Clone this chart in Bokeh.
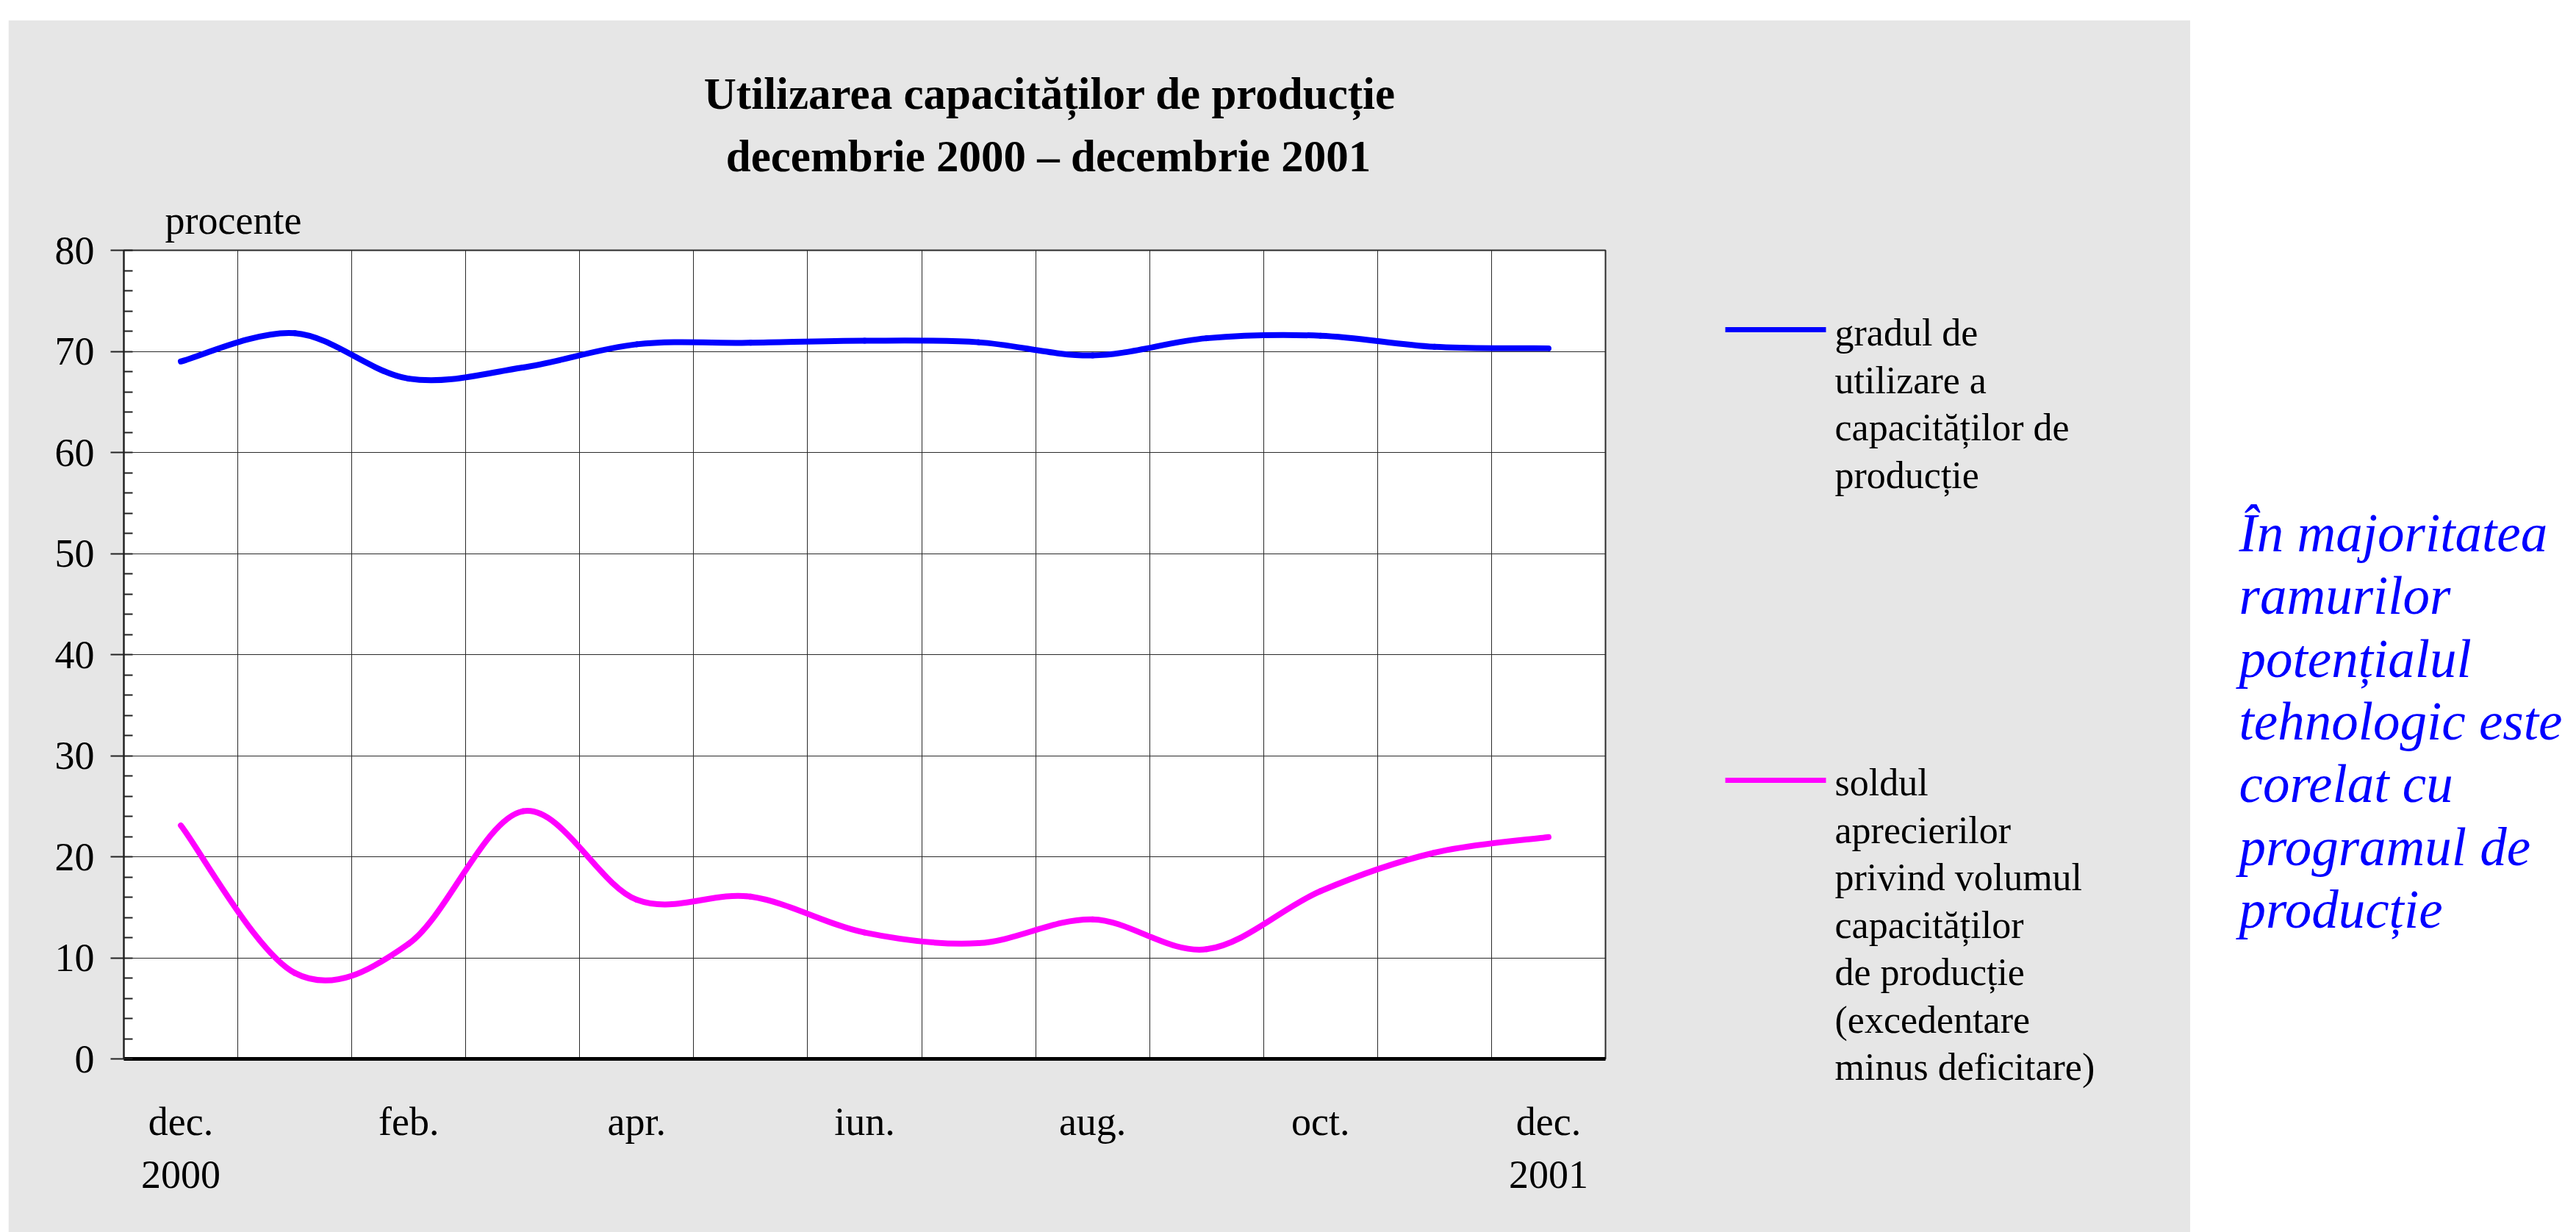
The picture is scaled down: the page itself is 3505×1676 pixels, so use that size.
from bokeh.plotting import figure
from bokeh.models import Range1d, FixedTicker, SingleIntervalTicker, Label, Spacer, ColumnDataSource
from bokeh.layouts import row, column
from bokeh.embed import file_html
from bokeh.resources import INLINE
from bokeh.core.properties import value

# ---------------- data ----------------
months = ["dec.\n2000", "ian.", "feb.", "mar.", "apr.", "mai", "iun.",
          "iul.", "aug.", "sep.", "oct.", "nov.", "dec.\n2001"]
shown_ticks = [0, 2, 4, 6, 8, 10, 12]
grad_utilizare = [69.0, 71.8, 67.3, 68.4, 70.7, 70.85, 71.05, 70.9, 69.6, 71.3, 71.55, 70.45, 70.3]
sold_aprecieri = [23.1, 8.5, 11.4, 24.5, 15.75, 16.05, 12.5, 11.45, 13.8, 10.85, 16.6, 20.4, 21.95]

title_lines = ["Utilizarea capacităților de producție", "decembrie 2000 – decembrie 2001"]
unit_label = "procente"
legend_1 = ["gradul de", "utilizare a", "capacităților de", "producție"]
legend_2 = ["soldul", "aprecierilor", "privind volumul", "capacităților",
            "de producție", "(excedentare", "minus deficitare)"]
side_text = ["În majoritatea", "ramurilor", "potențialul", "tehnologic este",
             "corelat cu", "programul de", "producție"]

FONT = "Liberation Serif"
BG = "#e6e6e6"
BLUE = "#0000ff"
MAGENTA = "#ff00ff"
GRID = "#2a2a2a"

# ---------------- layout geometry (page px) ----------------
FIG_L, FIG_T = 11, 27
FIG_W, FIG_H = 2969, 1649
FR_L, FR_R, FR_T, FR_B = 168, 2184, 340, 1440
XMIN, XMAX, YMIN, YMAX = -0.5, 12.5, 0, 80


def dx(px):
    return XMIN + (px - FR_L) * (XMAX - XMIN) / (FR_R - FR_L)


def dy(py):
    return YMIN + (FR_B - py) * (YMAX - YMIN) / (FR_B - FR_T)


p = figure(width=FIG_W, height=FIG_H, output_backend="svg", toolbar_location=None,
           x_range=Range1d(XMIN, XMAX), y_range=Range1d(YMIN, YMAX),
           min_border_left=FR_L - FIG_L, min_border_right=FIG_L + FIG_W - FR_R,
           min_border_top=FR_T - FIG_T, min_border_bottom=FIG_T + FIG_H - FR_B)
p.border_fill_color = BG
p.background_fill_color = "white"
p.outline_line_color = GRID
p.outline_line_width = 2

# grids
p.xgrid.ticker = FixedTicker(ticks=[i + 0.5 for i in range(len(months) - 1)])
p.xgrid.grid_line_color = GRID
p.xgrid.grid_line_width = 1
p.ygrid.grid_line_color = GRID
p.ygrid.grid_line_width = 1

# x axis
p.xaxis.ticker = FixedTicker(ticks=shown_ticks)
p.xaxis.major_label_overrides = {i: months[i] for i in shown_ticks}
p.xaxis.axis_line_width = 5
p.xaxis.axis_line_color = "black"
p.xaxis.major_tick_line_color = None
p.xaxis.minor_tick_line_color = None
p.xaxis.major_label_standoff = 49
p.xaxis.major_label_text_font = FONT
p.xaxis.major_label_text_font_size = "54px"
p.xaxis.major_label_text_color = "black"
p.xaxis.major_label_text_line_height = 1.2

# y axis
p.yaxis.ticker = SingleIntervalTicker(interval=10, num_minor_ticks=5)
p.yaxis.axis_line_width = 2
p.yaxis.axis_line_color = "#222222"
p.yaxis.major_tick_out = 18
p.yaxis.major_tick_in = 0
p.yaxis.major_tick_line_width = 2
p.yaxis.major_tick_line_color = "#222222"
p.yaxis.minor_tick_in = 12
p.yaxis.minor_tick_out = 0
p.yaxis.minor_tick_line_width = 2
p.yaxis.minor_tick_line_color = "#222222"
p.yaxis.major_label_standoff = 22
p.yaxis.major_label_text_font = FONT
p.yaxis.major_label_text_font_size = "54px"
p.yaxis.major_label_text_color = "black"


# smoothed lines (Excel-like Catmull-Rom bezier through the data points)
def smooth(xs, ys):
    n = len(xs)
    out = dict(x0=[], y0=[], x1=[], y1=[], cx0=[], cy0=[], cx1=[], cy1=[])
    for i in range(n - 1):
        a = max(i - 1, 0)
        b = min(i + 2, n - 1)
        out["x0"].append(xs[i]); out["y0"].append(ys[i])
        out["x1"].append(xs[i + 1]); out["y1"].append(ys[i + 1])
        out["cx0"].append(xs[i] + (xs[i + 1] - xs[a]) / 6)
        out["cy0"].append(ys[i] + (ys[i + 1] - ys[a]) / 6)
        out["cx1"].append(xs[i + 1] - (xs[b] - xs[i]) / 6)
        out["cy1"].append(ys[i + 1] - (ys[b] - ys[i]) / 6)
    return out


xs = list(range(len(months)))
for series, color in ((grad_utilizare, BLUE), (sold_aprecieri, MAGENTA)):
    p.bezier(line_color=color, line_width=8, line_cap="round", **smooth(xs, series))


# texts outside the frame (overlay level is not clipped)
def add_texts(items, size, style="normal", align="left", color="black"):
    src = ColumnDataSource(dict(x=[dx(a) for a, _, _ in items],
                                y=[dy(b) for _, b, _ in items],
                                text=[t for _, _, t in items]))
    p.text(x="x", y="y", text="text", source=src, level="overlay",
           text_font=value(FONT), text_font_size=value(size), text_font_style=style,
           text_align=align, text_baseline="alphabetic", text_color=color)


add_texts([(1428, 127, title_lines[0]), (1426, 212, title_lines[1])], "61px", "bold", "center")
add_texts([(224, 299, unit_label)], "54px")

leg_items = [(2496, 452 + 64.5 * k, t) for k, t in enumerate(legend_1)]
leg_items += [(2496, 1064 + 64.5 * k, t) for k, t in enumerate(legend_2)]
add_texts(leg_items, "52px")

p.segment(x0=[dx(2347)] * 2, x1=[dx(2484)] * 2, y0=[dy(448), dy(1061)], y1=[dy(448), dy(1061)],
          line_color=[BLUE, MAGENTA], line_width=7, level="overlay")

# side text (figure frame shares the main frame's vertical extent)
TW = 3505 - FIG_L - FIG_W
t = figure(width=TW, height=FIG_H, output_backend="svg", toolbar_location=None,
           x_range=Range1d(0, TW), y_range=Range1d(0, FR_B - FR_T),
           min_border_left=0, min_border_right=0,
           min_border_top=FR_T - FIG_T, min_border_bottom=FIG_T + FIG_H - FR_B,
           x_axis_type=None, y_axis_type=None)
t.outline_line_color = None
t.grid.visible = False
t.background_fill_color = "white"
t.border_fill_color = "white"
for k, txt in enumerate(side_text):
    t.add_layout(Label(x=3046 - (FIG_L + FIG_W), y=FR_B - (725 + 85.3 * k), text=txt,
                       text_align="left", text_baseline="alphabetic", text_font=FONT,
                       text_font_size="73px", text_font_style="italic", text_color=BLUE))

layout = column(Spacer(height=FIG_T), row(Spacer(width=FIG_L), p, t))
open("out.html", "w").write(file_html(layout, INLINE))
